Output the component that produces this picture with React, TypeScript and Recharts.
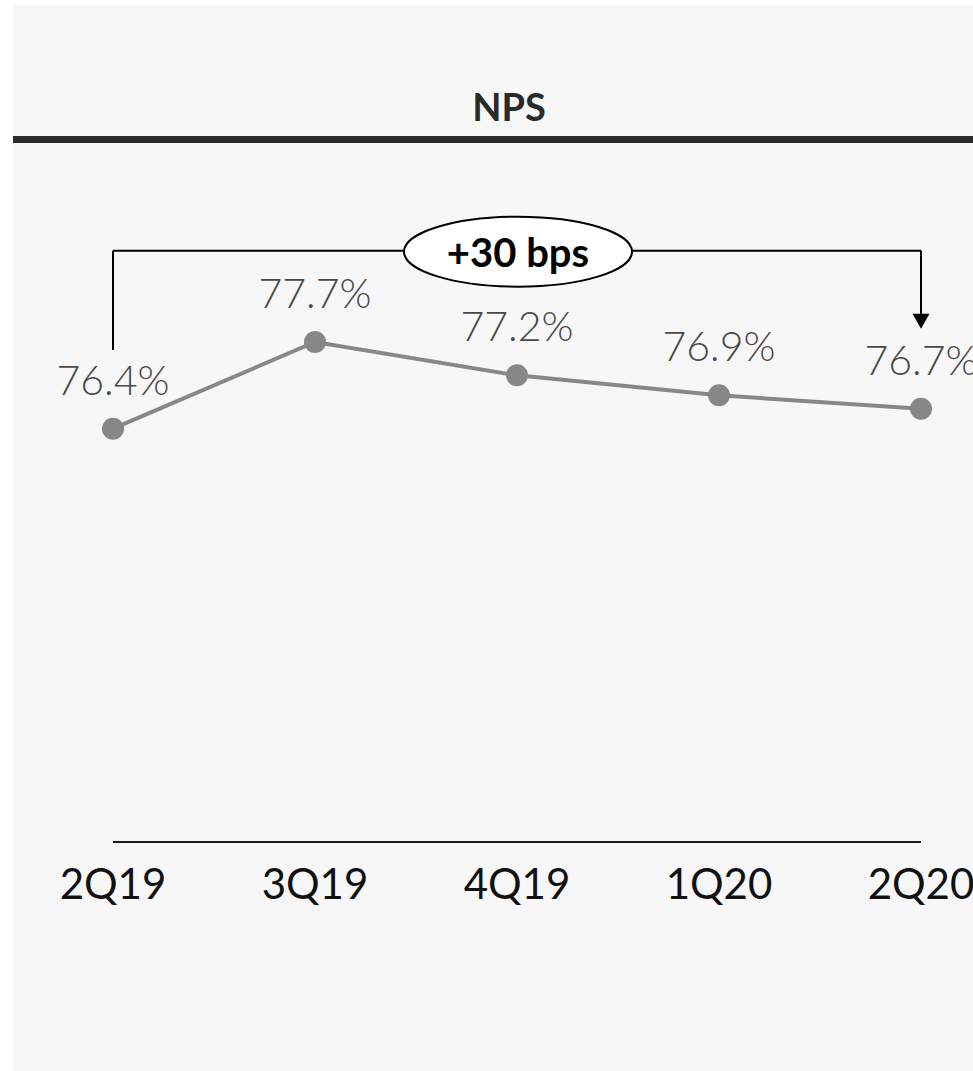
import { LineChart, Line, XAxis, YAxis, LabelList, ReferenceLine, ReferenceDot } from "recharts";

const quarters = ["2Q19", "3Q19", "4Q19", "1Q20", "2Q20"];
const npsValues = [76.4, 77.7, 77.2, 76.9, 76.7];
const changeLabel = "+30 bps";

// bracket annotation levels, in NPS units
const bracketTop = 79.07;
const bracketStart = 77.58;
const arrowTip = 77.9;

const data = quarters.map((quarter, i) => ({ quarter, nps: npsValues[i] }));

const FONT = "Lato, 'Open Sans', sans-serif";
const GREY = "#878787";

const QuarterTick = (props: any) => {
  const { x, y, payload } = props;
  return (
    <text x={x} y={y + 57} textAnchor="middle" fontFamily={FONT} fontSize={42} fill="#111">
      {payload.value}
    </text>
  );
};

const ValueLabel = (props: any) => {
  const { x, y, value } = props;
  return (
    <text x={x} y={y - 34} textAnchor="middle" fontFamily={FONT} fontWeight={300} fontSize={41} fill="#484848">
      {`${Number(value).toFixed(1)}%`}
    </text>
  );
};

const ChangeBubble = (props: any) => {
  const { cx, cy } = props;
  return (
    <g>
      <ellipse cx={cx + 1} cy={cy + 1} rx={114} ry={35} fill="#fff" stroke="#000" strokeWidth={2} />
      <text x={cx + 1} y={cy + 16} textAnchor="middle" fontFamily={FONT} fontWeight={700} fontSize={40} fill="#000">
        {changeLabel}
      </text>
    </g>
  );
};

const ArrowHead = (props: any) => {
  const { cx, cy } = props;
  return <polygon points={`${cx - 8.5},${cy - 15} ${cx + 8.5},${cy - 15} ${cx},${cy}`} fill="#000" />;
};

export default function App() {
  return (
    <div style={{ position: "absolute", left: 13, top: 5, width: 960, height: 1066, background: "#f7f7f7", overflow: "hidden" }}>
      <div
        style={{
          position: "absolute",
          left: 496,
          top: 79,
          transform: "translateX(-50%)",
          fontFamily: FONT,
          fontWeight: 700,
          fontSize: 38,
          lineHeight: "44px",
          color: "#2a2a2a",
        }}
      >
        NPS
      </div>
      <div style={{ position: "absolute", left: 0, top: 131, width: 960, height: 7, background: "#2b2b2b" }} />
      <LineChart width={960} height={1066} data={data} margin={{ top: 183.67, right: 52, bottom: 149, left: 100 }}>
        <XAxis
          dataKey="quarter"
          axisLine={{ stroke: "#1a1a1a", strokeWidth: 2 }}
          tickLine={false}
          tickSize={0}
          tickMargin={0}
          height={80}
          interval={0}
          tick={<QuarterTick />}
        />
        <YAxis hide domain={[70.2, 80]} allowDataOverflow />
        <ReferenceLine segment={[{ x: "2Q19", y: bracketStart }, { x: "2Q19", y: bracketTop }]} stroke="#000" strokeWidth={2} />
        <ReferenceLine segment={[{ x: "2Q19", y: bracketTop }, { x: "2Q20", y: bracketTop }]} stroke="#000" strokeWidth={2} />
        <ReferenceLine segment={[{ x: "2Q20", y: bracketTop }, { x: "2Q20", y: arrowTip + 0.1 }]} stroke="#000" strokeWidth={2} />
        <ReferenceDot x="4Q19" y={bracketTop} shape={<ChangeBubble />} />
        <ReferenceDot x="2Q20" y={arrowTip} shape={<ArrowHead />} />
        <Line
          type="linear"
          dataKey="nps"
          stroke={GREY}
          strokeWidth={4}
          dot={{ r: 11, fill: GREY, stroke: GREY, strokeWidth: 0 }}
          activeDot={false}
          isAnimationActive={false}
        >
          <LabelList dataKey="nps" content={<ValueLabel />} />
        </Line>
      </LineChart>
    </div>
  );
}
